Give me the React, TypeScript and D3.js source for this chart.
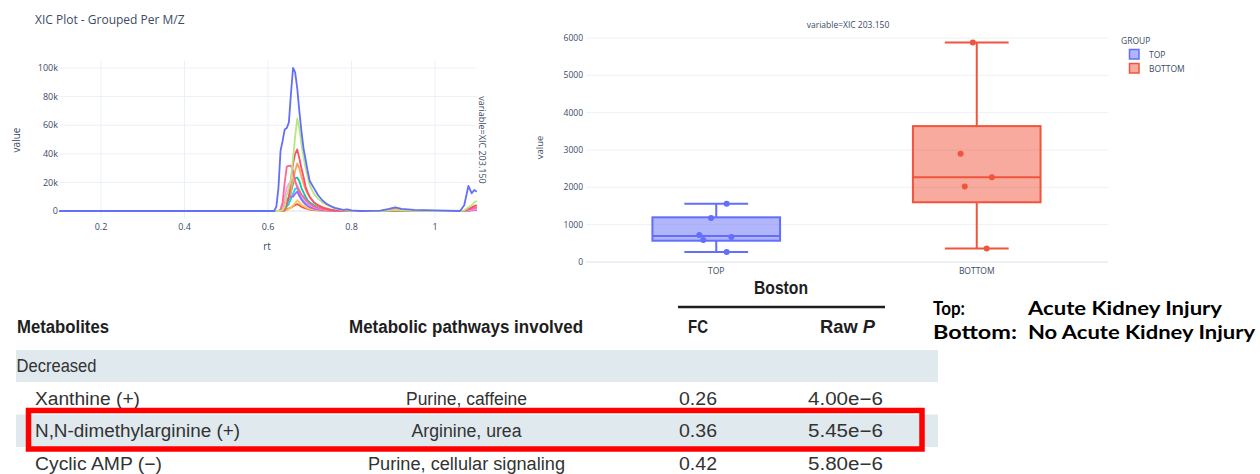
import React from "react";
import * as d3 from "d3";

// ---- XIC plot (left) : retention time grid shared by all traces ----
const rt = [0.1, 0.6, 0.615,
  0.62, 0.625, 0.63, 0.635, 0.64, 0.645, 0.65, 0.655, 0.66, 0.665, 0.67, 0.675, 0.68, 0.685, 0.69, 0.695,
  0.7, 0.71, 0.72, 0.73, 0.74, 0.75, 0.76, 0.78, 0.79, 0.8, 0.82,
  0.87, 0.89, 0.905, 0.92, 0.95, 1.0,
  1.06, 1.07, 1.08, 1.088, 1.094, 1.1];

// intensities in thousands, one array per sample
const sBlue = [0, 0, 0,
  3, 16, 42, 49, 57, 58, 62, 82, 100, 97, 86, 70, 56, 44, 36, 28,
  21, 16, 11, 7.5, 5, 3.5, 2.2, 0.8, 1.2, 0.4, 0,
  0.3, 1.5, 2.6, 1.5, 0.8, 0.5,
  0, 4, 17.5, 12.4, 14.7, 13.5];
const sLightGreen = [0, 0, 0,
  0, 0, 0, 0.5, 3, 11, 16, 22, 37, 52, 64.5, 58, 47, 38, 30, 24,
  18, 12, 8.5, 6, 4.5, 3, 1.9, 0.5, 0.3, 0.1, 0,
  0, 0.3, 0.6, 0.3, 0.1, 0,
  0, 0.5, 2.5, 4, 6, 7.2];
const sRose = [0, 0, 0,
  0, 0, 0, 0, 0.5, 5, 10, 22, 33, 40, 43, 37, 30, 24, 17, 13,
  10, 6, 4, 2.5, 1.4, 0.8, 0.4, 0.1, 0, 0, 0,
  0, 0, 0, 0, 0, 0,
  0, 0.3, 1.5, 2.5, 3.5, 4.2];
const sPink = [0, 0, 0,
  0, 0, 1, 6, 20, 31, 31.5, 31.7, 28, 21, 16.5, 14, 11.5, 10, 8, 6.5,
  5, 3.2, 2.2, 1.4, 0.9, 0.5, 0.3, 0, 0, 0, 0,
  0, 0, 0, 0, 0, 0,
  0, 0.2, 1, 1.5, 2, 2.5];
const sOrange = [0, 0, 0,
  0, 0, 0, 0.5, 4, 6, 9, 14, 22, 28, 33.3, 30, 24, 19.5, 15, 12,
  9.5, 6, 4, 2.8, 2, 1.2, 0.6, 0.2, 0, 0, 0,
  0.2, 0.8, 1.5, 0.8, 0.3, 0,
  0, 0.3, 1.5, 2, 3, 3.2];
const sMagenta = [0, 0, 0,
  0, 0, 0.5, 3, 10, 16, 19, 20.5, 21.7, 20, 18, 15, 11.5, 9, 7, 5.5,
  4.2, 2.8, 1.9, 1.2, 0.7, 0.4, 0.2, 0, 0, 0, 0,
  0, 0, 0, 0, 0, 0,
  0, 0, 0.5, 1, 1.2, 1.5];
const sGreen = [0, 0, 0,
  0, 0, 0, 0.5, 3, 5, 8, 13, 19, 23, 23.3, 21, 16, 13, 10, 7.5,
  6, 4, 2.5, 1.6, 1.1, 0.6, 0.3, 0, 0, 0, 0,
  0, 0, 0, 0, 0, 0,
  0, 0.2, 1, 1.8, 2.5, 3];
const sCyan = [0, 0, 0,
  0, 0, 0, 0, 1, 3, 5, 8.5, 12, 15.5, 16, 12.5, 9, 7, 5.5, 4.3,
  3.2, 2, 1.4, 0.9, 0.6, 0.3, 0.1, 0, 0, 0, 0,
  0, 0, 0, 0, 0, 0,
  0, 0, 0.5, 1, 1.5, 2];
const sPurple = [0, 0, 0,
  0, 0, 0.5, 3, 6, 8, 9.5, 10, 10, 12, 13.5, 10.5, 8, 6, 4.5, 3.5,
  2.6, 1.6, 1, 0.6, 0.4, 0.2, 0, 0, 0, 0, 0,
  0, 0, 0, 0, 0, 0,
  0, 0, 0.3, 0.6, 0.8, 1];
const sYellow = [0, 0, 0,
  0, 0, 0, 0, 0, 0.5, 1.4, 2.5, 4, 5.5, 7.5, 6, 4.5, 3.5, 2.7, 2,
  1.5, 0.9, 0.5, 0.3, 0.1, 0, 0, 0, 0, 0, 0,
  0, 0.5, 1, 0.5, 0.2, 0,
  0, 0.2, 0.6, 1, 1.2, 1.5];
const sRed = [0, 0, 0,
  0, 0, 0, 0, 0.5, 1, 1.8, 2.3, 3.3, 4.2, 4.8, 4, 3, 2.3, 1.8, 1.4,
  1, 0.6, 0.4, 0.2, 0.1, 0, 0, 0, 0, 0, 0,
  0, 0, 0, 0, 0, 0,
  0, 0, 0.2, 0.4, 0.6, 0.8];

const xicTicksX = [0.2, 0.4, 0.6, 0.8, 1];
const xicTicksY = [0, 20000, 40000, 60000, 80000, 100000];

// ---- box plot (right) ----
const groups = ["TOP", "BOTTOM"];
const topPoints = [1560, 1180, 720, 590, 670, 270];
const bottomPoints = [5880, 2900, 2270, 2020, 360];
const topJitter = [0.04, -0.02, -0.065, -0.05, 0.058, 0.04];
const bottomJitter = [-0.015, -0.062, 0.058, -0.046, 0.038];
// lower whisker, q1, median, q3, upper whisker
const topStats = [270, 570, 695, 1197, 1560];
const bottomStats = [360, 1600, 2270, 3640, 5880];
const boxTicksY = [0, 1000, 2000, 3000, 4000, 5000, 6000];

// ---- table ----
const metabolites = ["Xanthine (+)", "N,N-dimethylarginine (+)", "Cyclic AMP (\u2212)"];
const pathways = ["Purine, caffeine", "Arginine, urea", "Purine, cellular signaling"];
const fcValues = ["0.26", "0.36", "0.42"];
const rawP = ["4.00e\u22126", "5.45e\u22126", "5.80e\u22126"];

const PLOTLY_TEXT = "#3b4a66";
const GRID = "#ebf0f8";
const PLOTLY_FONT = "'Open Sans', 'Noto Sans', sans-serif";
const TABLE_FONT = "'Liberation Sans Narrow', 'Liberation Sans', Arial, sans-serif";

const XicPlot = () => {
  const x = d3.scaleLinear().domain([0.1, 1.1]).range([59.25, 476.75]);
  const y = d3.scaleLinear().domain([-5000, 105000]).range([218.15, 60.85]);
  const line = d3.line<number>().x((_, i) => x(rt[i])).y((d) => y(d * 1000));
  const fmtK = (d: number) => (d === 0 ? "0" : d / 1000 + "k");
  const traces: [number[], string][] = [
    [sRed, "#EF553B"],
    [sYellow, "#FECB52"],
    [sCyan, "#19D3F3"],
    [sPurple, "#AB63FA"],
    [sGreen, "#00CC96"],
    [sMagenta, "#FF97FF"],
    [sOrange, "#FFA15A"],
    [sPink, "#FF6692"],
    [sRose, "#F7506A"],
    [sLightGreen, "#B6E880"],
    [sBlue, "#636EFA"],
  ];
  const [y0, y1] = y.range();
  return (
    <g fontFamily={PLOTLY_FONT}>
      <text x={35} y={24} fontSize={12} fill={PLOTLY_TEXT}>XIC Plot - Grouped Per M/Z</text>
      {xicTicksX.map((t) => (
        <line key={"gx" + t} x1={x(t)} x2={x(t)} y1={y1} y2={y0} stroke={GRID} />
      ))}
      {xicTicksY.map((t) => (
        <line key={"gy" + t} x1={x.range()[0]} x2={x.range()[1]} y1={y(t)} y2={y(t)} stroke={GRID} strokeWidth={t === 0 ? 2 : 1} />
      ))}
      {traces.map(([vals, color], i) => (
        <path key={i} d={line(vals) || ""} fill="none" stroke={color} strokeWidth={1.8} strokeLinejoin="round" />
      ))}
      {xicTicksX.map((t) => (
        <text key={"lx" + t} x={x(t)} y={229.5} fontSize={9} textAnchor="middle" fill={PLOTLY_TEXT}>{t}</text>
      ))}
      {xicTicksY.map((t) => (
        <text key={"ly" + t} x={58} y={y(t) + 3.2} fontSize={9} textAnchor="end" fill={PLOTLY_TEXT}>{fmtK(t)}</text>
      ))}
      <text x={267} y={250} fontSize={10} textAnchor="middle" fill={PLOTLY_TEXT}>rt</text>
      <text transform="translate(19.5,140) rotate(-90)" fontSize={10} textAnchor="middle" fill={PLOTLY_TEXT}>value</text>
      <text transform="translate(479,140) rotate(90)" fontSize={9} textAnchor="middle" fill={PLOTLY_TEXT}>variable=XIC 203.150</text>
    </g>
  );
};

const BoxPlot = () => {
  const x = d3.scaleBand().domain(groups).range([586, 1107]);
  const y = d3.scaleLinear().domain([0, 6000]).range([262, 38]);
  const bw = x.bandwidth() * 0.49;
  const series = [
    { g: groups[0], pts: topPoints, jit: topJitter, st: topStats, color: "#636EFA", fill: "rgba(99,110,250,0.5)" },
    { g: groups[1], pts: bottomPoints, jit: bottomJitter, st: bottomStats, color: "#EF553B", fill: "rgba(239,85,59,0.5)" },
  ];
  return (
    <g fontFamily={PLOTLY_FONT}>
      <text x={848} y={28} fontSize={8.5} textAnchor="middle" fill={PLOTLY_TEXT}>variable=XIC 203.150</text>
      {boxTicksY.map((t) => (
        <line key={"g" + t} x1={586} x2={1108} y1={y(t)} y2={y(t)} stroke={GRID} strokeWidth={t === 0 ? 2 : 1} />
      ))}
      {boxTicksY.map((t) => (
        <text key={"l" + t} x={583} y={y(t) + 3} fontSize={8.5} textAnchor="end" fill={PLOTLY_TEXT}>{t}</text>
      ))}
      {series.map((s) => {
        const cx = (x(s.g) || 0) + x.bandwidth() / 2;
        const [lo, q1, med, q3, hi] = s.st;
        return (
          <g key={s.g}>
            <line x1={cx} x2={cx} y1={y(hi)} y2={y(q3)} stroke={s.color} strokeWidth={2} />
            <line x1={cx} x2={cx} y1={y(q1)} y2={y(lo)} stroke={s.color} strokeWidth={2} />
            <line x1={cx - bw / 4} x2={cx + bw / 4} y1={y(hi)} y2={y(hi)} stroke={s.color} strokeWidth={2} />
            <line x1={cx - bw / 4} x2={cx + bw / 4} y1={y(lo)} y2={y(lo)} stroke={s.color} strokeWidth={2} />
            <rect x={cx - bw / 2} y={y(q3)} width={bw} height={y(q1) - y(q3)} fill={s.fill} stroke={s.color} strokeWidth={2} />
            <line x1={cx - bw / 2} x2={cx + bw / 2} y1={y(med)} y2={y(med)} stroke={s.color} strokeWidth={2} />
            {s.pts.map((p, i) => (
              <circle key={i} cx={cx + s.jit[i] * x.bandwidth()} cy={y(p)} r={3} fill={s.color} />
            ))}
            <text x={cx} y={273.5} fontSize={8.5} textAnchor="middle" fill={PLOTLY_TEXT}>{s.g}</text>
          </g>
        );
      })}
      <text transform="translate(543,147.5) rotate(-90)" fontSize={9.5} textAnchor="middle" fill={PLOTLY_TEXT}>value</text>
      <text x={1121} y={43.5} fontSize={8.5} fill={PLOTLY_TEXT}>GROUP</text>
      {series.map((s, i) => (
        <g key={"leg" + s.g} transform={`translate(0,${i * 14})`}>
          <rect x={1129.5} y={49.5} width={9.5} height={9.5} fill={s.fill} stroke={s.color} strokeWidth={1.5} />
          <text x={1149} y={57.5} fontSize={8.5} fill={PLOTLY_TEXT}>{s.g}</text>
        </g>
      ))}
    </g>
  );
};

const Table = () => {
  const row = d3.scaleLinear().domain([0, 3]).range([372, 469.5]);
  const widthsM = [105, 205, 127];
  const widthsP = [121, 110, 197];
  return (
    <g fontFamily={TABLE_FONT}>
      <rect x={16} y={350} width={922} height={32} fill="#dfe9ee" />
      <rect x={16} y={414.5} width={922} height={32.5} fill="#dfe9ee" />
      <text x={754} y={294} fontSize={18} fontWeight="bold" fill="#1e1e1e" textLength={54} lengthAdjust="spacingAndGlyphs">Boston</text>
      <line x1={678} x2={885} y1={307} y2={307} stroke="#1e1e1e" strokeWidth={2.5} />
      <text x={17} y={333} fontSize={18} fontWeight="bold" fill="#1e1e1e" textLength={92} lengthAdjust="spacingAndGlyphs">Metabolites</text>
      <text x={349} y={333} fontSize={18} fontWeight="bold" fill="#1e1e1e" textLength={234} lengthAdjust="spacingAndGlyphs">Metabolic pathways involved</text>
      <text x={688} y={333} fontSize={18} fontWeight="bold" fill="#1e1e1e" textLength={20} lengthAdjust="spacingAndGlyphs">FC</text>
      <text x={820} y={333} fontSize={18} fontWeight="bold" fill="#1e1e1e" textLength={55} lengthAdjust="spacingAndGlyphs">
        Raw <tspan fontStyle="italic">P</tspan>
      </text>
      <text x={16.5} y={row(0)} fontSize={18} fill="#333" textLength={80} lengthAdjust="spacingAndGlyphs">Decreased</text>
      {metabolites.map((m, i) => (
        <g key={m}>
          <text x={35} y={row(i + 1)} fontSize={18} fill="#333" textLength={widthsM[i]} lengthAdjust="spacingAndGlyphs">{m}</text>
          <text x={466.5 - widthsP[i] / 2} y={row(i + 1)} fontSize={18} fill="#333" textLength={widthsP[i]} lengthAdjust="spacingAndGlyphs">{pathways[i]}</text>
          <text x={679} y={row(i + 1)} fontSize={18} fill="#333" textLength={38} lengthAdjust="spacingAndGlyphs">{fcValues[i]}</text>
          <text x={808} y={row(i + 1)} fontSize={18} fill="#333" textLength={75} lengthAdjust="spacingAndGlyphs">{rawP[i]}</text>
        </g>
      ))}
      <rect x={28.5} y={410.5} width={893.5} height={38.5} fill="none" stroke="#ff0000" strokeWidth={5.5} />
    </g>
  );
};

const Legend = () => (
  <g fontFamily="Lato, 'Open Sans', sans-serif" fontWeight="bold" fontSize={19} fill="#000">
    <text x={933} y={315} textLength={32} lengthAdjust="spacingAndGlyphs">Top:</text>
    <text x={1028} y={315} textLength={194} lengthAdjust="spacingAndGlyphs">Acute Kidney Injury</text>
    <text x={933} y={338.5} textLength={84} lengthAdjust="spacingAndGlyphs">Bottom:</text>
    <text x={1028} y={338.5} textLength={227} lengthAdjust="spacingAndGlyphs">No Acute Kidney Injury</text>
  </g>
);

export default function App() {
  return (
    <svg width={1260} height={474} style={{ position: "absolute", left: 0, top: 0, background: "#fff" }}>
      <XicPlot />
      <BoxPlot />
      <Table />
      <Legend />
    </svg>
  );
}
